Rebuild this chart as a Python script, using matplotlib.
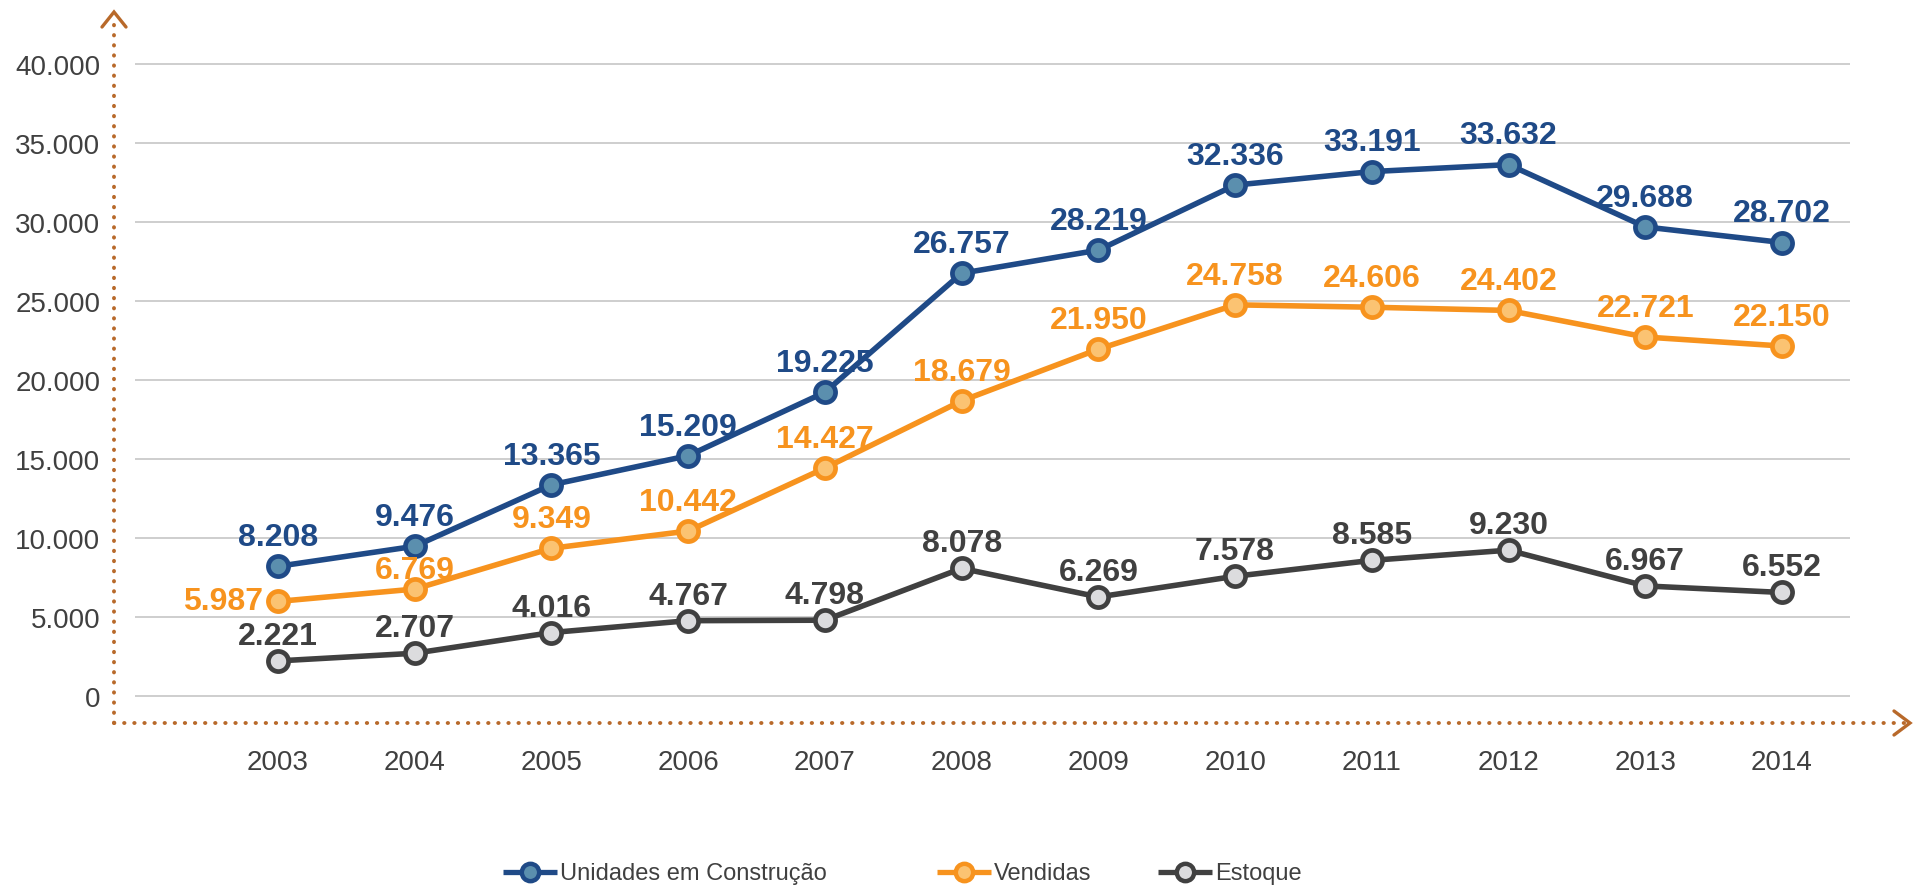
import matplotlib
matplotlib.use("Agg")
import matplotlib.pyplot as plt

plt.rcParams['font.family'] = ['Liberation Sans', 'DejaVu Sans']

years = ['2003', '2004', '2005', '2006', '2007', '2008', '2009', '2010', '2011', '2012', '2013', '2014']
construcao = [8208, 9476, 13365, 15209, 19225, 26757, 28219, 32336, 33191, 33632, 29688, 28702]
vendidas = [5987, 6769, 9349, 10442, 14427, 18679, 21950, 24758, 24606, 24402, 22721, 22150]
estoque = [2221, 2707, 4016, 4767, 4798, 8078, 6269, 7578, 8585, 9230, 6967, 6552]
yticks = [0, 5000, 10000, 15000, 20000, 25000, 30000, 35000, 40000]
series_names = ['Unidades em Construção', 'Vendidas', 'Estoque']

W, H = 1921, 887
fig = plt.figure(figsize=(W / 100, H / 100), dpi=100)

# axes in pixel bounds
L, R, T, B = 135, 1850, 13, 724
ax = fig.add_axes([L / W, 1 - B / H, (R - L) / W, (B - T) / H])

px_per_cat = (1782 - 278) / 11
ax.set_xlim((L - 278) / px_per_cat, (R - 278) / px_per_cat)
units_per_px = 40000 / (697 - 65)
ax.set_ylim(-(B - 697) * units_per_px, 40000 + (65 - T) * units_per_px)

for s in ax.spines.values():
    s.set_visible(False)
ax.set_yticks(yticks)
ax.set_yticklabels(['0' if v == 0 else f"{v:,}".replace(',', '.') for v in yticks])
ax.set_xticks(range(len(years)))
ax.set_xticklabels(years)
ax.tick_params(axis='both', length=0, labelsize=20, labelcolor='#404040')
ax.tick_params(axis='y', pad=25)
ax.tick_params(axis='x', pad=19)
ax.grid(axis='y', color='#CACACA', linewidth=1.3)
ax.set_axisbelow(True)

styles = [
    dict(color='#1F4A87', mfc='#5B8FAE'),
    dict(color='#F7931E', mfc='#FBC372'),
    dict(color='#404040', mfc='#DCDCDE'),
]
x = list(range(len(years)))
for vals, st in zip([construcao, vendidas, estoque], styles):
    ax.plot(x, vals, color=st['color'], lw=4.0, marker='o', ms=14.5,
            mfc=st['mfc'], mec=st['color'], mew=3.4, zorder=3, clip_on=False)

def label(vals, color, dy, special=None):
    special = special or {}
    for i, v in enumerate(vals):
        txt = f"{v:,}".replace(',', '.')
        off, ha, va = special.get(i, ((0, dy), 'center', 'center'))
        ax.annotate(txt, (i, v), xytext=off, textcoords='offset points',
                    ha=ha, va=va, fontsize=23, fontweight='bold', color=color,
                    zorder=4, annotation_clip=False)

label(construcao, '#1F4A87', 21)
label(vendidas, '#F7931E', 21, {0: ((-11, 0), 'right', 'center'),
                                 1: ((0, 13.5), 'center', 'center')})
label(estoque, '#404040', 18)

# overlay in pixel coordinates for decorative axes and legend
ov = fig.add_axes([0, 0, 1, 1], zorder=5)
ov.set_xlim(0, W)
ov.set_ylim(H, 0)
ov.axis('off')
ov.patch.set_alpha(0)

axc = '#B8692A'
ov.plot([114, 114], [724, 18], color=axc, lw=2.8, linestyle=(0, (0.1, 2.5)),
        dash_capstyle='round')
ov.plot([114, 1906], [724, 724], color=axc, lw=2.8, linestyle=(0, (0.1, 2.5)),
        dash_capstyle='round')
ov.plot([102, 114, 126], [28, 13, 28], color=axc, lw=2.4, solid_capstyle='round',
        solid_joinstyle='miter')
ov.plot([1894, 1910, 1894], [712, 724, 736], color=axc, lw=2.4, solid_capstyle='round',
        solid_joinstyle='miter')

leg_y = 873
leg_marker_x = [530, 964, 1185]
for name, st, mx in zip(series_names, styles, leg_marker_x):
    ov.plot([mx - 27, mx + 27], [leg_y, leg_y], color=st['color'], lw=3.8,
            solid_capstyle='butt')
    ov.plot([mx], [leg_y], marker='o', ms=12.5, mfc=st['mfc'], mec=st['color'], mew=3.2,
            color=st['color'])
    ov.text(mx + 30, leg_y + 1, name, fontsize=17, color='#404040', ha='left', va='center')

fig.savefig('out.png', dpi=100, facecolor='white')
